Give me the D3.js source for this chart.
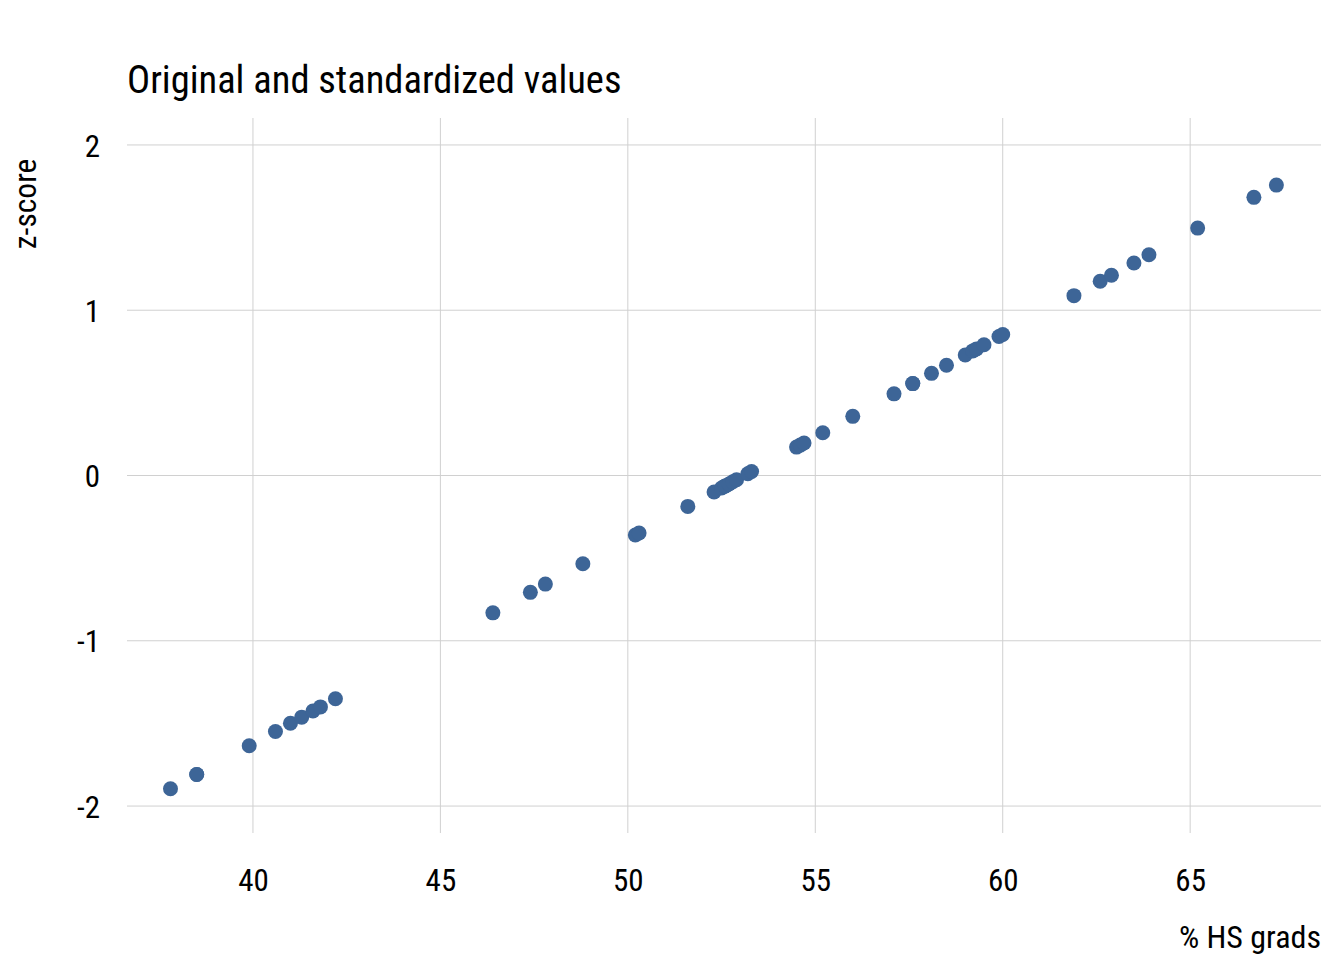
<!DOCTYPE html>
<html>
<head>
<meta charset="utf-8">
<script src="https://cdn.jsdelivr.net/npm/d3@7"></script>
<style>
  body { margin: 0; background: #fff; }
  svg text { font-family: "Roboto Condensed", "Liberation Sans Narrow", "DejaVu Sans Condensed", Roboto, sans-serif; fill: #000; }
</style>
</head>
<body>
<div id="chart"></div>
<script>
// % HS grads per state (sorted) and their z-scores
var hsGrads = [
    37.8, 38.5, 38.5, 39.9, 40.6, 41.0, 41.3, 41.6, 41.8, 42.2,
    46.4, 47.4, 47.8, 48.8, 50.2, 50.3, 51.6, 52.3, 52.5, 52.6,
    52.6, 52.7, 52.8, 52.9, 53.2, 53.3, 54.5, 54.6, 54.7, 55.2,
    56.0, 57.1, 57.6, 57.6, 58.1, 58.5, 59.0, 59.2, 59.3, 59.5,
    59.9, 60.0, 61.9, 62.6, 62.9, 63.5, 63.9, 65.2, 66.7, 67.3
]
var zScores = [
    -1.895, -1.809, -1.809, -1.635, -1.549, -1.499, -1.462, -1.425, -1.400, -1.351,
    -0.831, -0.707, -0.657, -0.534, -0.360, -0.348, -0.187, -0.100, -0.076, -0.063,
    -0.063, -0.051, -0.038, -0.026, 0.011, 0.024, 0.172, 0.184, 0.197, 0.259,
    0.358, 0.494, 0.556, 0.556, 0.618, 0.667, 0.729, 0.754, 0.766, 0.791,
    0.841, 0.853, 1.088, 1.175, 1.212, 1.286, 1.336, 1.497, 1.683, 1.757
]
var xTicks = [40, 45, 50, 55, 60, 65]
var yTicks = [-2, -1, 0, 1, 2]

var width = 1344,
    height = 960,
    margin = { top: 118, right: 23, bottom: 127, left: 127 },
    gridColor = '#d0d0d0',
    pointColor = '#3d6597'

var svg = d3.select('#chart')
    .append('svg')
    .attr('width', width)
    .attr('height', height)

var x = d3.scaleLinear()
    .domain([36.64, 68.49])
    .range([margin.left, width - margin.right])
var y = d3.scaleLinear()
    .domain([-2.163, 2.163])
    .range([height - margin.bottom, margin.top])

// сетка
svg.append('g')
    .selectAll('line')
    .data(xTicks)
    .enter()
    .append('line')
    .attr('x1', d => x(d))
    .attr('x2', d => x(d))
    .attr('y1', margin.top)
    .attr('y2', height - margin.bottom)
    .style('stroke', gridColor)
    .style('stroke-width', 1)

svg.append('g')
    .selectAll('line')
    .data(yTicks)
    .enter()
    .append('line')
    .attr('x1', margin.left)
    .attr('x2', width - margin.right)
    .attr('y1', d => y(d))
    .attr('y2', d => y(d))
    .style('stroke', gridColor)
    .style('stroke-width', 1)

// оси (без линий, только подписи)
var xAxis = svg.append('g')
    .attr('transform', 'translate(0,' + (height - margin.bottom) + ')')
    .call(d3.axisBottom(x).tickValues(xTicks).tickSize(0).tickPadding(36))
var yAxis = svg.append('g')
    .attr('transform', 'translate(' + margin.left + ',0)')
    .call(d3.axisLeft(y).tickValues(yTicks).tickSize(0).tickPadding(27).tickFormat(d => String(d)))

svg.selectAll('.domain').remove()
svg.selectAll('.tick text')
    .style('font-size', '31px')
    .attr('fill', '#000')
    .style('font-family', null)
yAxis.selectAll('.tick text').attr('dy', '0.36em')

// точки
svg.append('g')
    .selectAll('circle')
    .data(hsGrads)
    .enter()
    .append('circle')
    .attr('cx', d => x(d))
    .attr('cy', (d, i) => y(zScores[i]))
    .attr('r', 7.5)
    .style('fill', pointColor)

// заголовок и подписи осей
svg.append('text')
    .attr('x', margin.left)
    .attr('y', 93)
    .style('font-size', '38.5px')
    .text('Original and standardized values')

svg.append('text')
    .attr('x', width - margin.right)
    .attr('y', 948)
    .attr('text-anchor', 'end')
    .style('font-size', '32px')
    .text('% HS grads')

svg.append('text')
    .attr('transform', 'translate(36,204) rotate(-90)')
    .attr('text-anchor', 'middle')
    .style('font-size', '31.5px')
    .text('z-score')
</script>
</body>
</html>
